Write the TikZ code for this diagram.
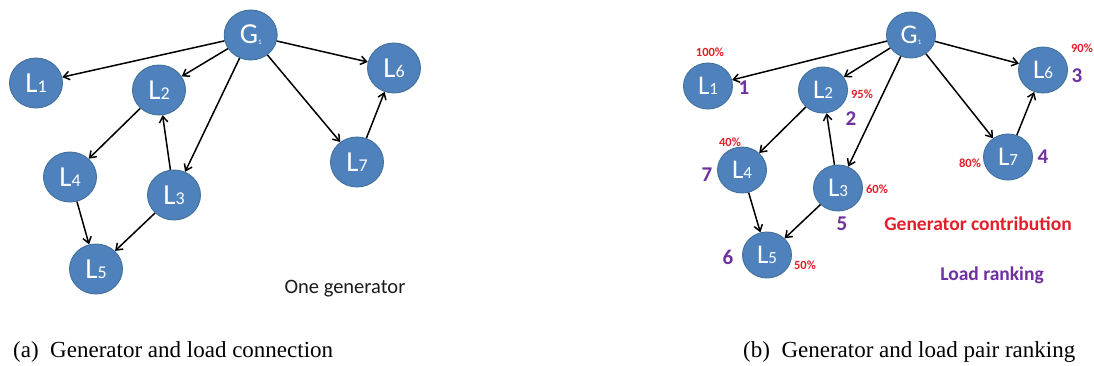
\documentclass[tikz,border=0pt]{standalone}
\usepackage{fontspec}
\setmainfont{Liberation Serif}
\newfontfamily\calib{Carlito}
\usetikzlibrary{shapes.geometric,arrows.meta}
\definecolor{nodeblue}{HTML}{4F81BD}
\definecolor{nodeedge}{HTML}{41719C}
\definecolor{contrib}{HTML}{E41E2B}
\definecolor{rank}{HTML}{7030A0}
\definecolor{notegray}{HTML}{1A1A1A}
% subscript digits inside the bus nodes
\newcommand\lsub[1]{{\fontsize{18}{18}\selectfont #1}}
\newcommand\lsubb[1]{{\fontsize{17}{17}\selectfont #1}}
\newcommand\gsub[1]{{\fontsize{7}{7}\selectfont\raisebox{-1pt}{#1}}}
\begin{document}
\begin{tikzpicture}[x=1pt,y=-1pt,
  bus/.style={ellipse, fill=nodeblue, draw=nodeedge, line width=0.9pt,
    minimum width=53pt, minimum height=50pt, inner sep=0pt, text=white,
    font=\calib\fontsize{29}{29}\selectfont},
  busb/.style={bus, minimum width=49pt, minimum height=46pt,
    font=\calib\fontsize{27}{27}\selectfont},
  flow/.style={-{Straight Barb[length=6pt,width=8.5pt]}, line width=1.5pt},
  pct/.style={text=contrib, font=\calib\bfseries\fontsize{12.5}{12.5}\selectfont, inner sep=0pt},
  rnk/.style={text=rank, font=\calib\bfseries\fontsize{21}{21}\selectfont, inner sep=0pt},
  note/.style={font=\calib\fontsize{20.5}{20.5}\selectfont, inner sep=0pt, text=notegray},
  captext/.style={font=\fontsize{23}{23}\selectfont, inner sep=0pt},
]
\useasboundingbox (0,0) rectangle (1094,365);

% ---- (a) one generator feeding seven loads
\node[bus] (aG) at (250.7,35) {G\gsub{1}};
\node[bus] (a1) at (36,83) {L\lsub{1}};
\node[bus] (a2) at (159,90) {L\lsub{2}};
\node[bus] (a6) at (394,68) {L\lsub{6}};
\node[bus] (a7) at (357,162) {L\lsub{7}};
\node[bus] (a4) at (70,177) {L\lsub{4}};
\node[bus] (a3) at (174,195) {L\lsub{3}};
\node[bus] (a5) at (96,269) {L\lsub{5}};

\draw[flow] (aG) -- (a1);
\draw[flow] (aG) -- (a2);
\draw[flow] (aG) -- (a3);
\draw[flow] (aG) -- (a7);
\draw[flow] (aG) -- (a6);
\draw[flow] (a2) -- (a4);
\draw[flow] (a3) -- (a2);
\draw[flow] (a3) -- (a5);
\draw[flow] (a4) -- (a5);
\draw[flow] (a7) -- (a6);

\node[note] (anote) at (345,289) {One generator};
\node[captext, anchor=base west] (acap) at (13,357) {(a)\ \ Generator and load connection};

% ---- (b) contribution shares and load ranking
\node[busb] (bG) at (911,35) {G\gsub{1}};
\node[busb] (b1) at (708,86) {L\lsubb{1}};
\node[busb] (b2) at (823,90) {L\lsubb{2}};
\node[busb] (b6) at (1043,70) {L\lsubb{6}};
\node[busb] (b7) at (1008,157) {L\lsubb{7}};
\node[busb] (b4) at (742,170) {L\lsubb{4}};
\node[busb] (b3) at (838,188) {L\lsubb{3}};
\node[busb] (b5) at (767,255) {L\lsubb{5}};

\draw[flow] (bG) -- (b1);
\draw[flow] (bG) -- (b2);
\draw[flow] (bG) -- (b3);
\draw[flow] (bG) -- (b7);
\draw[flow] (bG) -- (b6);
\draw[flow] (b2) -- (b4);
\draw[flow] (b3) -- (b2);
\draw[flow] (b3) -- (b5);
\draw[flow] (b4) -- (b5);
\draw[flow] (b7) -- (b6);

\node[pct] (p1) at (710,52) {100\%};
\node[pct] (p2) at (862,94) {95\%};
\node[pct] (p4) at (730,142) {40\%};
\node[pct] (p3) at (877,189) {60\%};
\node[pct] (p5) at (805,265) {50\%};
\node[pct] (p7) at (970,163) {80\%};
\node[pct] (p6) at (1082,48) {90\%};

\node[rnk] (r1) at (744,88) {1};
\node[rnk] (r2) at (851,119) {2};
\node[rnk] (r4) at (707,175) {7};
\node[rnk] (r3) at (842,224) {5};
\node[rnk] (r5) at (728,257) {6};
\node[rnk] (r7) at (1043,157) {4};
\node[rnk] (r6) at (1077,76) {3};

\node[note, text=contrib, font=\calib\bfseries\fontsize{19.5}{19.5}\selectfont] (kc) at (978,224) {Generator contribution};
\node[note, text=rank, font=\calib\bfseries\fontsize{19.5}{19.5}\selectfont] (kr) at (992,275) {Load ranking};

\node[captext, anchor=base west] (bcap) at (743,357) {(b)\ \ Generator and load pair ranking};
\end{tikzpicture}
\end{document}
